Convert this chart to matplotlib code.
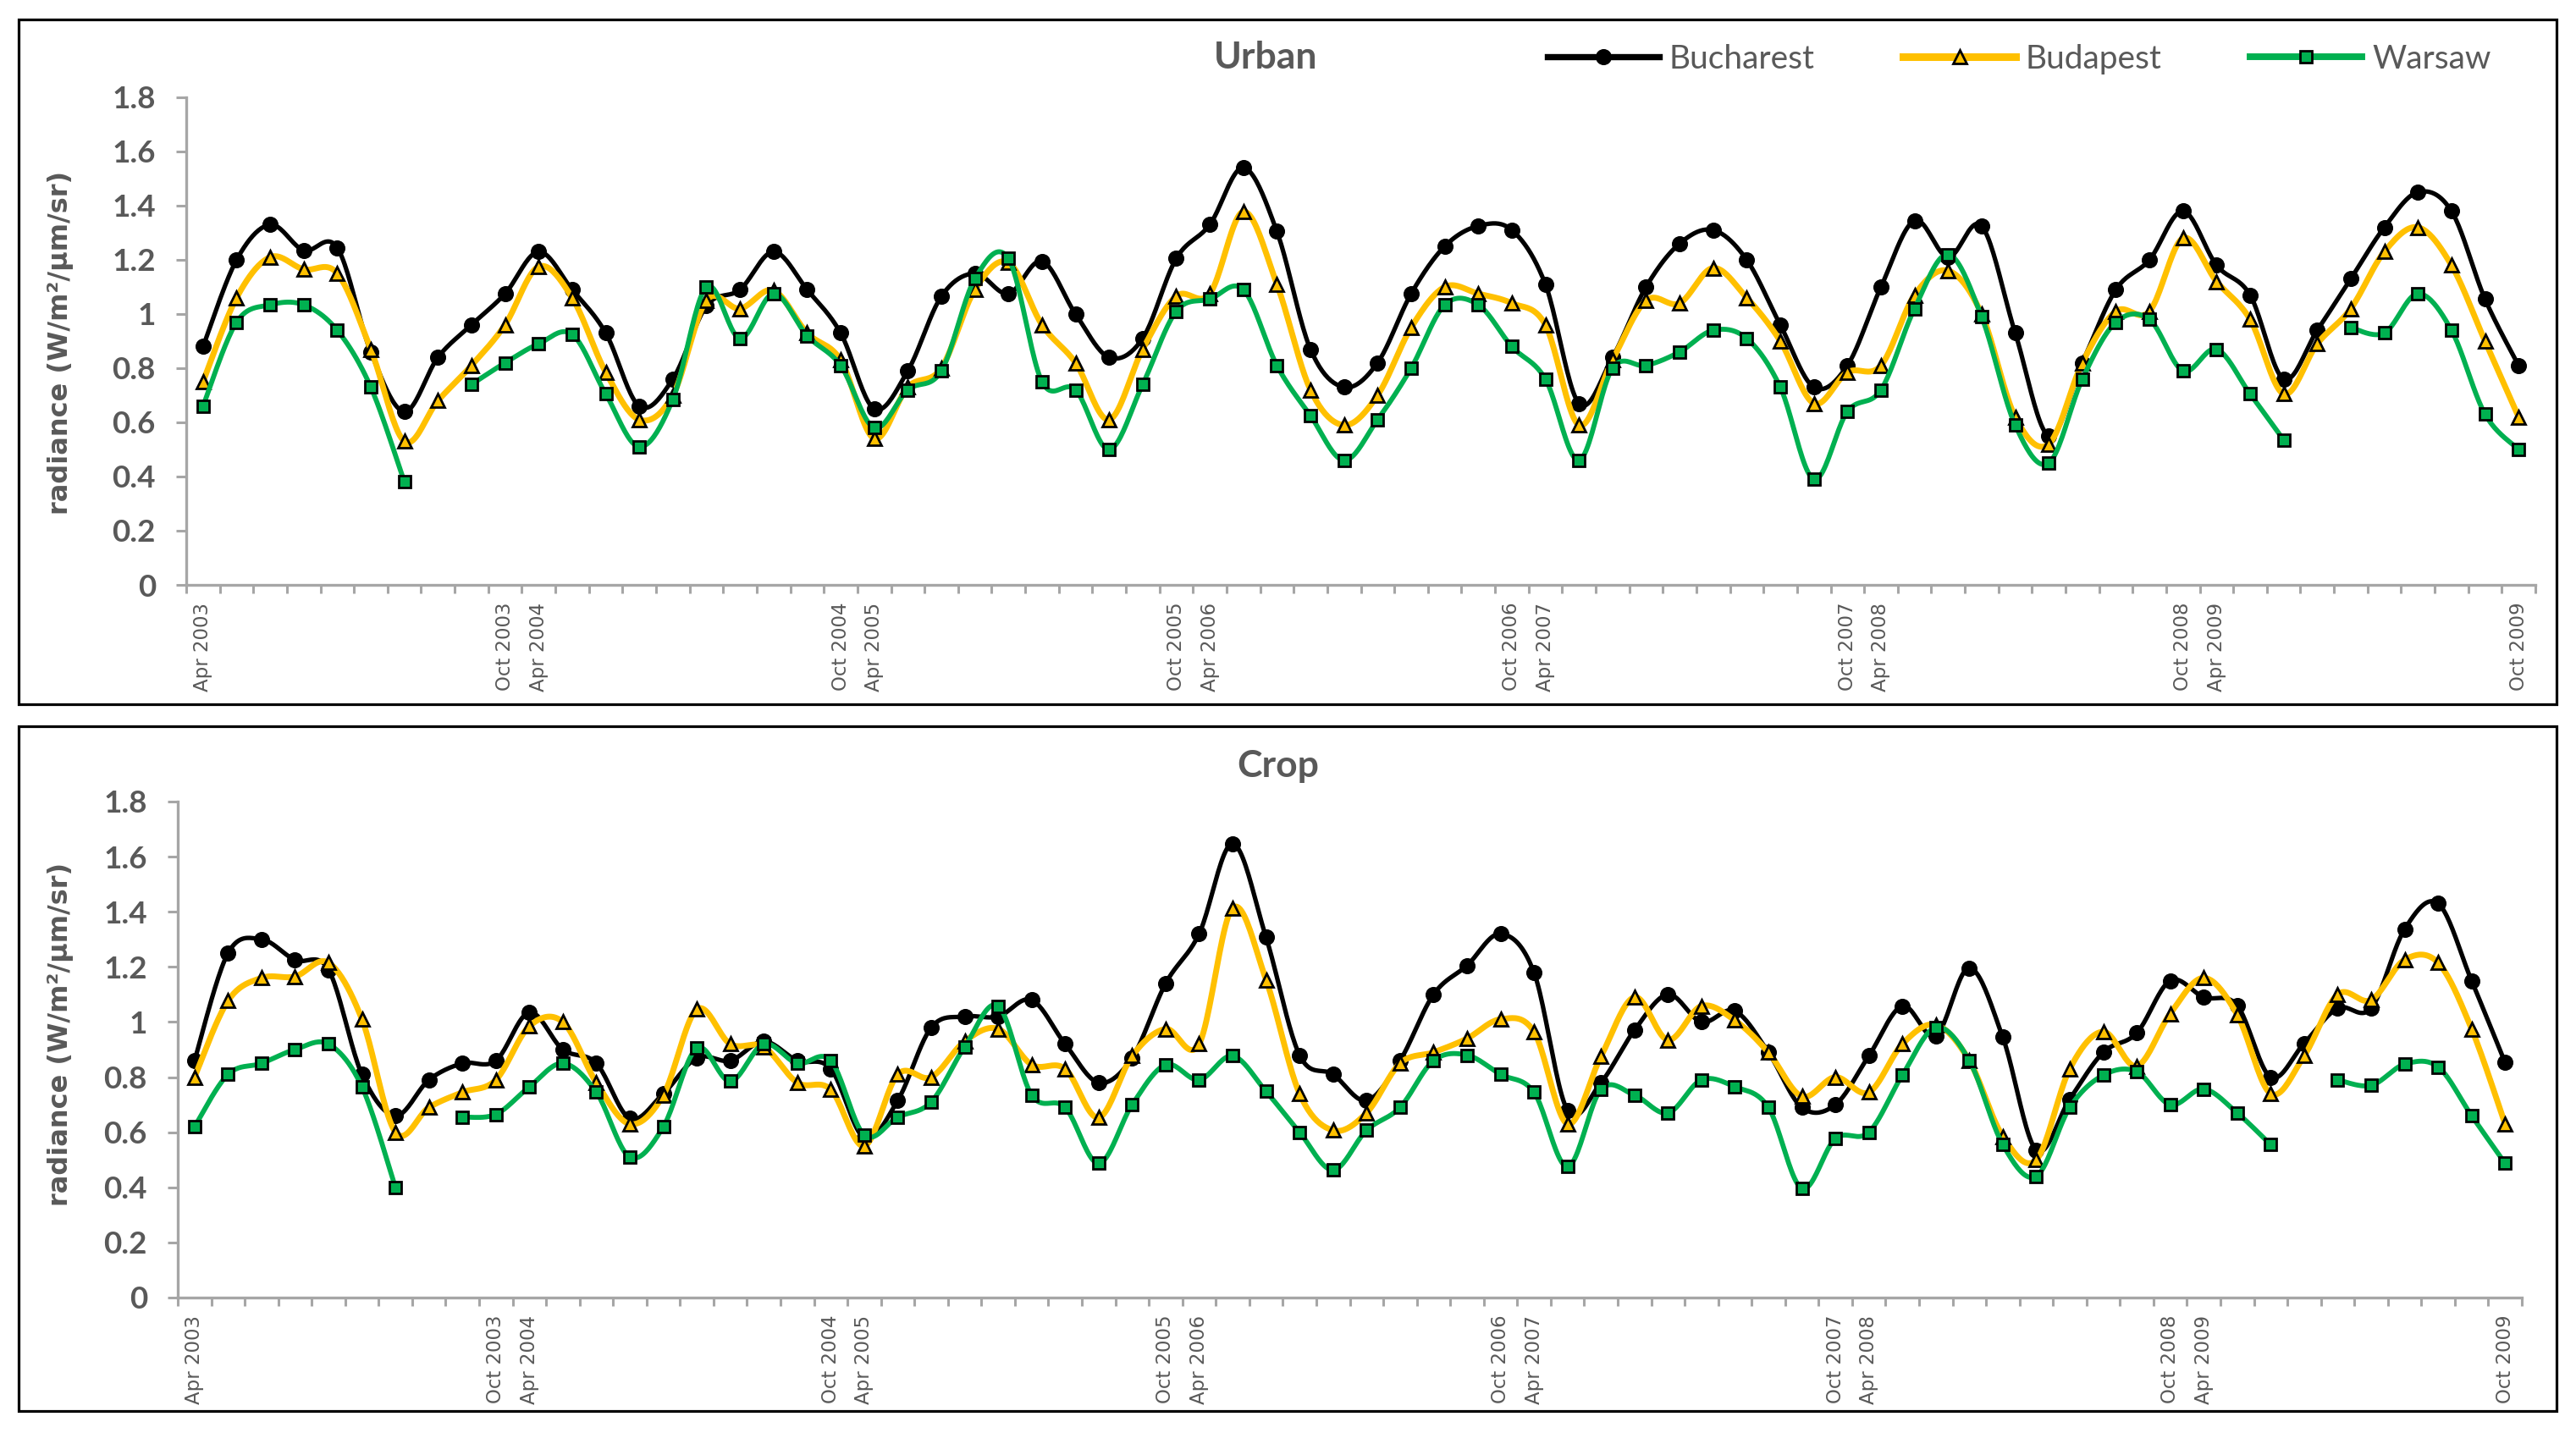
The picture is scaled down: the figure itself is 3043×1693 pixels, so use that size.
import numpy as np
import matplotlib
matplotlib.use("Agg")
import matplotlib.pyplot as plt
from matplotlib.lines import Line2D
from matplotlib.patches import Rectangle

# ---------------- data ----------------
N_CAT = 70  # 10 categories per season, 2003-2009
tick_labels = [(0, "Apr 2003"), (9, "Oct 2003"), (10, "Apr 2004"), (19, "Oct 2004"),
               (20, "Apr 2005"), (29, "Oct 2005"), (30, "Apr 2006"), (39, "Oct 2006"),
               (40, "Apr 2007"), (49, "Oct 2007"), (50, "Apr 2008"), (59, "Oct 2008"),
               (60, "Apr 2009"), (69, "Oct 2009")]
series_names = ["Bucharest", "Budapest", "Warsaw"]

urban_bucharest = [0.88, 1.20, 1.33, 1.235, 1.245, 0.86, 0.64, 0.84, 0.96, 1.075,
                   1.23, 1.09, 0.93, 0.66, 0.76, 1.03, 1.09, 1.23, 1.09, 0.93,
                   0.65, 0.79, 1.065, 1.15, 1.075, 1.195, 1.00, 0.84, 0.91, 1.205,
                   1.33, 1.54, 1.305, 0.87, 0.73, 0.82, 1.075, 1.25, 1.325, 1.31,
                   1.11, 0.67, 0.84, 1.10, 1.26, 1.31, 1.20, 0.96, 0.73, 0.81,
                   1.10, 1.345, 1.21, 1.325, 0.93, 0.55, 0.82, 1.09, 1.20, 1.38,
                   1.18, 1.07, 0.76, 0.94, 1.13, 1.32, 1.45, 1.38, 1.055, 0.81]
urban_budapest = [0.75, 1.06, 1.21, 1.165, 1.15, 0.87, 0.53, 0.68, 0.81, 0.96,
                  1.175, 1.06, 0.785, 0.61, 0.70, 1.05, 1.02, 1.087, 0.93, 0.83,
                  0.54, 0.73, 0.80, 1.09, 1.19, 0.96, 0.82, 0.61, 0.87, 1.066,
                  1.075, 1.378, 1.11, 0.72, 0.59, 0.70, 0.95, 1.10, 1.075, 1.04,
                  0.96, 0.59, 0.83, 1.05, 1.04, 1.17, 1.06, 0.90, 0.67, 0.785,
                  0.81, 1.07, 1.16, 1.00, 0.62, 0.52, 0.82, 1.01, 1.01, 1.28,
                  1.12, 0.98, 0.705, 0.89, 1.02, 1.23, 1.32, 1.18, 0.90, 0.62]
urban_warsaw = [0.66, 0.97, 1.034, 1.034, 0.94, 0.73, 0.38, None, 0.74, 0.82,
                0.89, 0.925, 0.705, 0.51, 0.685, 1.10, 0.91, 1.075, 0.92, 0.81,
                0.58, 0.72, 0.79, 1.13, 1.205, 0.75, 0.72, 0.50, 0.74, 1.01,
                1.055, 1.09, 0.81, 0.625, 0.46, 0.61, 0.80, 1.034, 1.034, 0.88,
                0.76, 0.46, 0.80, 0.81, 0.86, 0.94, 0.91, 0.73, 0.39, 0.64,
                0.72, 1.02, 1.22, 0.99, 0.59, 0.45, 0.76, 0.97, 0.98, 0.79,
                0.87, 0.705, 0.535, None, 0.95, 0.93, 1.075, 0.94, 0.63, 0.50]

crop_bucharest = [0.86, 1.25, 1.30, 1.225, 1.19, 0.81, 0.66, 0.79, 0.85, 0.86,
                  1.035, 0.90, 0.85, 0.65, 0.74, 0.87, 0.86, 0.93, 0.86, 0.83,
                  0.58, 0.715, 0.98, 1.02, 1.02, 1.08, 0.92, 0.78, 0.87, 1.14,
                  1.32, 1.647, 1.307, 0.88, 0.81, 0.715, 0.86, 1.10, 1.205, 1.32,
                  1.18, 0.68, 0.78, 0.97, 1.10, 1.00, 1.04, 0.89, 0.69, 0.70,
                  0.877, 1.058, 0.95, 1.196, 0.945, 0.535, 0.72, 0.89, 0.96, 1.15,
                  1.09, 1.06, 0.80, 0.923, 1.05, 1.05, 1.337, 1.43, 1.15, 0.853]
crop_budapest = [0.80, 1.077, 1.16, 1.165, 1.215, 1.01, 0.60, 0.69, 0.745, 0.79,
                 0.985, 1.00, 0.78, 0.63, 0.735, 1.046, 0.92, 0.91, 0.78, 0.755,
                 0.55, 0.81, 0.80, 0.93, 0.975, 0.845, 0.83, 0.653, 0.877, 0.975,
                 0.92, 1.414, 1.153, 0.74, 0.607, 0.67, 0.85, 0.89, 0.94, 1.01,
                 0.965, 0.63, 0.875, 1.09, 0.935, 1.058, 1.006, 0.89, 0.73, 0.80,
                 0.745, 0.92, 0.99, 0.86, 0.585, 0.50, 0.83, 0.965, 0.84, 1.03,
                 1.16, 1.027, 0.74, 0.877, 1.10, 1.08, 1.226, 1.215, 0.975, 0.63]
crop_warsaw = [0.62, 0.81, 0.85, 0.90, 0.92, 0.765, 0.40, None, 0.655, 0.665,
               0.765, 0.85, 0.745, 0.51, 0.62, 0.905, 0.785, 0.92, 0.85, 0.86,
               0.59, 0.655, 0.71, 0.91, 1.058, 0.735, 0.69, 0.487, 0.70, 0.845,
               0.79, 0.877, 0.748, 0.60, 0.463, 0.607, 0.69, 0.86, 0.88, 0.81,
               0.745, 0.475, 0.755, 0.735, 0.67, 0.79, 0.765, 0.69, 0.396, 0.577,
               0.60, 0.807, 0.98, 0.86, 0.555, 0.44, 0.69, 0.807, 0.82, 0.70,
               0.757, 0.67, 0.555, None, 0.79, 0.77, 0.847, 0.837, 0.66, 0.487]

# ---------------- style ----------------
TXT = "#595959"
AXC = "#a6a6a6"
styles = [
    dict(color="#000000", lw=3.8, marker="o", ms=12.5, mfc="#000000", mew=1.2),
    dict(color="#FFC000", lw=5.0, marker="^", ms=12.0, mfc="#FFC000", mew=2.0),
    dict(color="#00B050", lw=4.2, marker="s", ms=10.5, mfc="#00B050", mew=2.0),
]


def to_arr(vals):
    return np.array([np.nan if v is None else v for v in vals], dtype=float)


def smooth(y, n=24):
    """Excel-like smoothed line (Catmull-Rom Bezier), broken at gaps."""
    x = np.arange(len(y), dtype=float)
    ok = ~np.isnan(y)
    runs, cur = [], []
    for i in range(len(y)):
        if ok[i]:
            cur.append(i)
        else:
            if cur:
                runs.append(cur)
            cur = []
    if cur:
        runs.append(cur)
    sx, sy = [], []
    t = np.linspace(0, 1, n)
    for run in runs:
        P = np.column_stack([x[run], y[run]])
        m = len(P)
        if m == 1:
            sx += [P[0, 0]]
            sy += [P[0, 1]]
        for k in range(m - 1):
            p0 = P[k - 1] if k > 0 else P[k]
            p1 = P[k]
            p2 = P[k + 1]
            p3 = P[k + 2] if k + 2 < m else P[k + 1]
            c1 = p1 + (p2 - p0) / 6.0
            c2 = p2 - (p3 - p1) / 6.0
            b = ((1 - t) ** 3)[:, None] * p1 + (3 * (1 - t) ** 2 * t)[:, None] * c1 \
                + (3 * (1 - t) * t ** 2)[:, None] * c2 + (t ** 3)[:, None] * p2
            sx += list(b[:, 0])
            sy += list(b[:, 1])
        sx.append(np.nan)
        sy.append(np.nan)
    return np.array(sx), np.array(sy)


W, H = 3043, 1693
fig = plt.figure(figsize=(W / 100, H / 100), dpi=100)
fig.patch.set_facecolor("white")


def draw_panel(rect, title, title_xy, ylabel_xy, data, legend=False):
    ax = fig.add_axes(rect)
    x = np.arange(N_CAT)
    handles = []
    for k, (vals, st) in enumerate(zip(data, styles)):
        y = to_arr(vals)
        sx, sy = smooth(y)
        ax.plot(sx, sy, color=st["color"], lw=st["lw"], solid_capstyle="round",
                solid_joinstyle="round", zorder=2 + k, clip_on=False)
        ax.plot(x, y, ls="none", marker=st["marker"], ms=st["ms"], mfc=st["mfc"],
                mec="#000000", mew=st["mew"], zorder=2.5 + k, clip_on=False)
        handles.append(Line2D([], [], color=st["color"], lw=st["lw"] + 1.5,
                              marker=st["marker"], ms=st["ms"], mfc=st["mfc"],
                              mec="#000000", mew=st["mew"]))
    ax.set_xlim(-0.5, N_CAT - 0.5)
    ax.set_ylim(0, 1.8)
    for s in ("top", "right"):
        ax.spines[s].set_visible(False)
    for s in ("left", "bottom"):
        ax.spines[s].set_color(AXC)
        ax.spines[s].set_linewidth(2.4)
    yt = np.round(np.arange(0, 1.81, 0.2), 1)
    ax.set_yticks(yt)
    ax.set_yticklabels(["0" if v == 0 else ("1" if v == 1 else f"{v:g}") for v in yt])
    ax.tick_params(axis="y", length=9, width=2.2, color=AXC, pad=17,
                   labelsize=26.5, labelcolor=TXT)
    for lab in ax.get_yticklabels():
        lab.set_fontfamily("Lato")
        lab.set_fontweight("bold")
    ax.set_xticks(np.arange(-0.5, N_CAT, 1.0))
    ax.set_xticklabels([])
    ax.tick_params(axis="x", which="major", length=7, width=2.2, color=AXC)
    ax.set_xticks([i for i, _ in tick_labels], minor=True)
    ax.set_xticklabels([s for _, s in tick_labels], minor=True, rotation=90,
                       fontsize=16.5, color=TXT, family="DejaVu Sans")
    ax.tick_params(axis="x", which="minor", length=0, pad=15)
    ax.grid(False)
    fig.text(title_xy[0], title_xy[1], title, ha="center", va="center",
             fontsize=32, fontweight="bold", color=TXT, family="Lato")
    fig.text(ylabel_xy[0], ylabel_xy[1], "radiance (W/m\u00b2/\u00b5m/sr)",
             rotation=90, ha="center", va="center", fontsize=23,
             fontweight="bold", color=TXT, family="DejaVu Sans")
    if legend:
        fig.legend(handles, series_names, loc="center", ncol=3,
                   bbox_to_anchor=(2385 / W, 1 - 70 / H), frameon=False,
                   handlelength=3.4, handletextpad=0.3, columnspacing=2.7,
                   prop={"family": "Lato", "size": 28}, labelcolor=TXT)
    return ax


ax1 = draw_panel([220 / W, 1 - 691 / H, 2775 / W, 576 / H], "Urban",
                 (1495 / W, 1 - 68 / H), (72 / W, 1 - 405 / H),
                 [urban_bucharest, urban_budapest, urban_warsaw], legend=True)
ax2 = draw_panel([210 / W, 1 - 1533 / H, 2769 / W, 586 / H], "Crop",
                 (1510 / W, 1 - 905 / H), (72 / W, 1 - 1222 / H),
                 [crop_bucharest, crop_budapest, crop_warsaw])

# chart-area frames
for (y0, y1) in [(23, 832), (858, 1667)]:
    fig.add_artist(Rectangle((22 / W, 1 - y1 / H), 2998 / W, (y1 - y0) / H,
                             transform=fig.transFigure, fill=False,
                             edgecolor="black", linewidth=2.3))

fig.savefig("out.png", dpi=100, facecolor="white")
